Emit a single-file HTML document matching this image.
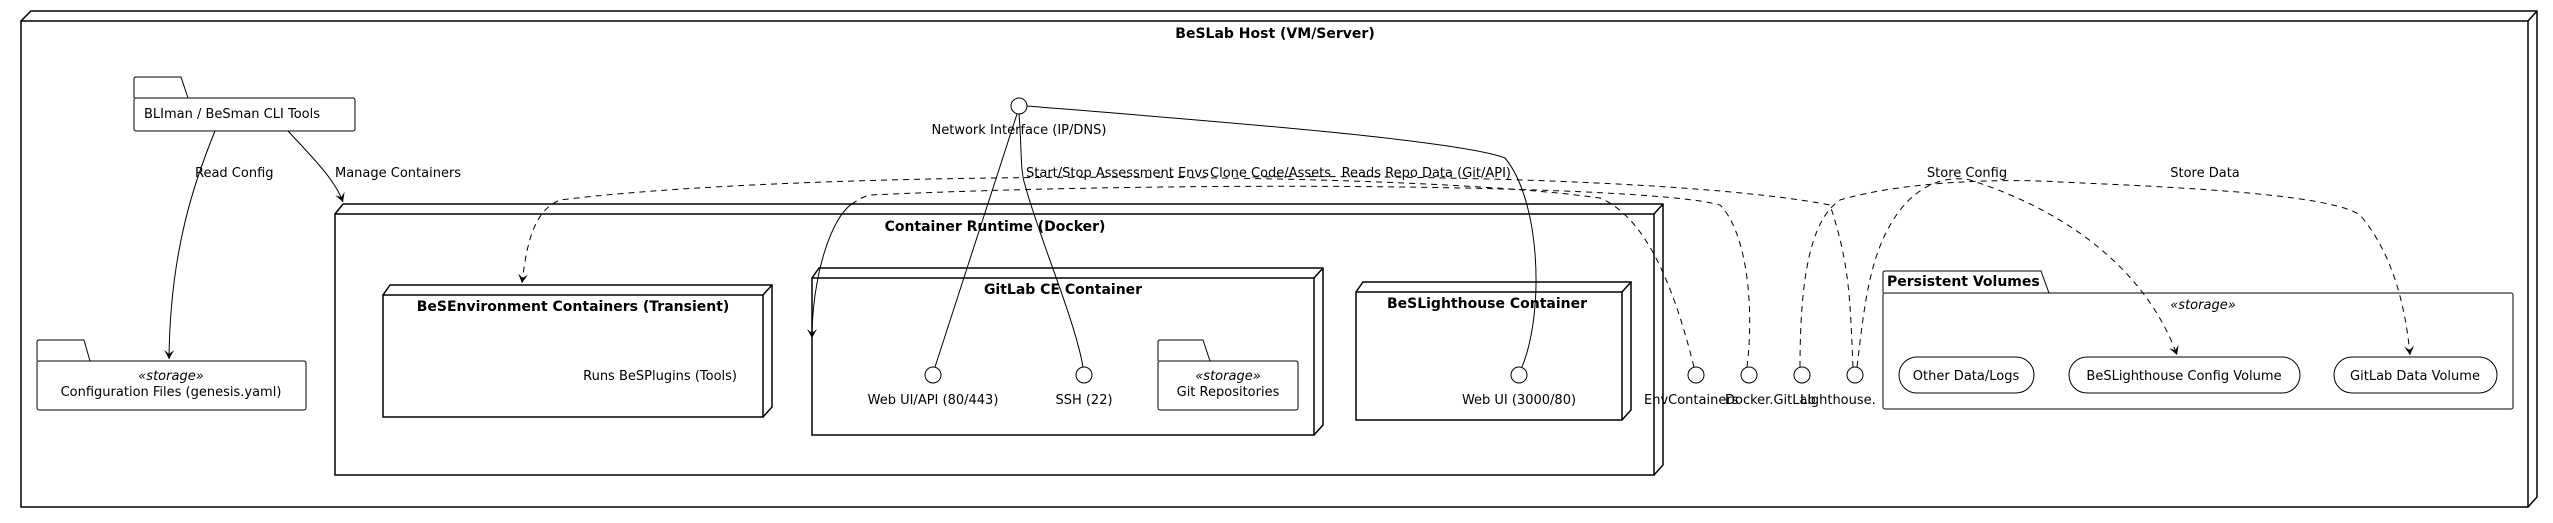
<!DOCTYPE html>
<html><head><meta charset="utf-8"><style>html,body{margin:0;padding:0;background:#fff}svg{display:block}</style></head>
<body>
<svg width="2553" height="523" viewBox="0 0 2553 523" xmlns="http://www.w3.org/2000/svg" font-family="DejaVu Sans, Liberation Sans, sans-serif" font-size="13">
<defs>
<marker id="ah" markerWidth="10" markerHeight="10" refX="9" refY="5" orient="auto" markerUnits="userSpaceOnUse">
<path d="M0,0 L9,5 L0,10 L4,5 Z" fill="#000"/></marker>
</defs>
<g fill="none" stroke="#000" stroke-width="1.5">
<!-- outer node -->
<path d="M21,21 L31,11 L2537,11 L2537,497 L2528,507"/>
<rect x="21" y="21" width="2507" height="486" fill="#fff"/>
<path d="M2528,21 L2537,11"/>
<!-- container runtime -->
<path d="M335,214 L343,204 L1663,204 L1663,465 L1654,475"/>
<rect x="335" y="214" width="1319" height="261"/>
<path d="M1654,214 L1663,204"/>
<!-- BeSEnv -->
<path d="M383,295 L390,285 L772,285 L772,407 L763,417"/>
<rect x="383" y="295" width="380" height="122"/>
<path d="M763,295 L772,285"/>
<!-- GitLab -->
<path d="M812,278 L819,268 L1323,268 L1323,425 L1314,435"/>
<rect x="812" y="278" width="502" height="157"/>
<path d="M1314,278 L1323,268"/>
<!-- Lighthouse -->
<path d="M1356,292 L1363,282 L1631,282 L1631,410 L1622,420"/>
<rect x="1356" y="292" width="266" height="128"/>
<path d="M1622,292 L1631,282"/>
</g>
<g fill="#fff" stroke="#000" stroke-width="1">
<!-- BLIman folder -->
<path d="M134,98 L134,79 Q134,77 136,77 L181,77 L188,98"/>
<rect x="134" y="98" width="221" height="33" rx="2"/>
<!-- Config folder -->
<path d="M37,361 L37,342 Q37,340 39,340 L84,340 L90,361"/>
<rect x="37" y="361" width="269" height="49" rx="2"/>
<!-- Git repos folder -->
<path d="M1158,361 L1158,342 Q1158,340 1160,340 L1203,340 L1210,361"/>
<rect x="1158" y="361" width="140" height="49" rx="2"/>
<!-- Persistent Volumes -->
<path d="M1883,293 L1883,273 Q1883,271 1885,271 L2041,271 L2049,293"/>
<rect x="1883" y="293" width="630" height="116" rx="2"/>
<rect x="1899" y="357" width="135" height="36" rx="18"/>
<rect x="2069" y="357" width="231" height="36" rx="18"/>
<rect x="2334" y="357" width="163" height="36" rx="18"/>
<!-- interface circles -->
<circle cx="1019" cy="106" r="8"/>
<circle cx="933" cy="375" r="8"/>
<circle cx="1084" cy="375" r="8"/>
<circle cx="1519" cy="375" r="8"/>
<circle cx="1696" cy="375" r="8"/>
<circle cx="1749" cy="375" r="8"/>
<circle cx="1802" cy="375" r="8"/>
<circle cx="1855" cy="375" r="8"/>
</g>
<!-- solid connectors -->
<g fill="none" stroke="#000" stroke-width="1">
<path d="M215,131 C195,180 170,250 169,359" marker-end="url(#ah)"/>
<path d="M288,131 C315,160 335,180 343,202" marker-end="url(#ah)"/>
<path d="M1017,114 L935,367"/>
<path d="M1019,114 C1022,150 1020,170 1025,185 C1040,240 1075,320 1083,367"/>
<path d="M1027,106 C1200,120 1460,140 1505,158 C1540,200 1545,310 1522,367"/>
<path d="M855,202 C830,215 812,280 812,338" marker-end="url(#ah)"/>
</g>
<!-- dashed connectors -->
<g fill="none" stroke="#000" stroke-width="1" stroke-dasharray="6,5">
<path d="M1694,367 C1670,270 1640,215 1600,198 C1400,170 800,170 560,200 C535,210 527,240 522,283" marker-end="url(#ah)"/>
<path d="M1747,367 C1755,300 1745,230 1720,205 C1650,185 1200,180 870,195 C860,198 858,200 855,202"/>
<path d="M1853,367 C1850,300 1850,265 1830,205 C1700,180 1400,175 1250,177"/>
<path d="M1857,367 C1865,300 1870,250 1900,210 C1920,185 1945,175 1970,180 C2080,215 2150,280 2177,355" marker-end="url(#ah)"/>
<path d="M1800,367 C1800,280 1810,220 1840,200 C1900,182 2000,178 2060,182 C2200,188 2330,195 2360,215 C2390,250 2405,300 2410,355" marker-end="url(#ah)"/>
</g>
<!-- text -->
<g fill="#000">
<text x="1275" y="38" font-weight="bold" text-anchor="middle" font-size="14">BeSLab Host (VM/Server)</text>
<text x="144" y="118">BLIman / BeSman CLI Tools</text>
<text x="171" y="380" text-anchor="middle" font-style="italic">«storage»</text>
<text x="171" y="396" text-anchor="middle">Configuration Files (genesis.yaml)</text>
<text x="195" y="177">Read Config</text>
<text x="335" y="177">Manage Containers</text>
<text x="995" y="231" font-weight="bold" text-anchor="middle" font-size="14">Container Runtime (Docker)</text>
<text x="573" y="311" font-weight="bold" text-anchor="middle" font-size="14">BeSEnvironment Containers (Transient)</text>
<text x="737" y="380" text-anchor="end">Runs BeSPlugins (Tools)</text>
<text x="1063" y="294" font-weight="bold" text-anchor="middle" font-size="14">GitLab CE Container</text>
<text x="1487" y="308" font-weight="bold" text-anchor="middle" font-size="14">BeSLighthouse Container</text>
<text x="1019" y="134" text-anchor="middle">Network Interface (IP/DNS)</text>
<text x="933" y="404" text-anchor="middle">Web UI/API (80/443)</text>
<text x="1084" y="404" text-anchor="middle">SSH (22)</text>
<text x="1228" y="380" text-anchor="middle" font-style="italic">«storage»</text>
<text x="1228" y="396" text-anchor="middle">Git Repositories</text>
<text x="1519" y="404" text-anchor="middle">Web UI (3000/80)</text>
<text x="1644" y="404">EnvContainers</text>
<text x="1725" y="404">Docker.GitLab</text>
<text x="1800" y="404">Lighthouse.</text>
<text x="1026" y="177">Start/Stop Assessment Envs</text>
<text x="1210" y="177">Clone Code/Assets</text>
<text x="1511" y="177" text-anchor="end">Reads Repo Data (Git/API)</text>
<text x="1967" y="177" text-anchor="middle">Store Config</text>
<text x="2205" y="177" text-anchor="middle">Store Data</text>
<text x="1887" y="286" font-weight="bold" font-size="14">Persistent Volumes</text>
<text x="2203" y="309" text-anchor="middle" font-style="italic">«storage»</text>
<text x="1966" y="380" text-anchor="middle">Other Data/Logs</text>
<text x="2184" y="380" text-anchor="middle">BeSLighthouse Config Volume</text>
<text x="2415" y="380" text-anchor="middle">GitLab Data Volume</text>
</g>
</svg>
</body></html>
